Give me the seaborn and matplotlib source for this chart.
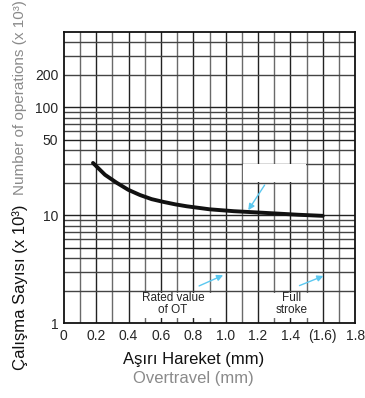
import numpy as np
import pandas as pd
import seaborn as sns
import matplotlib.pyplot as plt
from matplotlib.patches import Rectangle

# Curve (overtravel mm vs operations x10^3)
overtravel = [0.18, 0.254, 0.326, 0.398, 0.47, 0.542, 0.614, 0.69, 0.76, 0.9, 1.05, 1.2, 1.3, 1.45, 1.6]
operations = [30.5, 23.7, 20.0, 17.2, 15.4, 14.1, 13.3, 12.6, 12.1, 11.35, 10.9, 10.6, 10.4, 10.1, 9.87]

x_ticks = [0, 0.2, 0.4, 0.6, 0.8, 1.0, 1.2, 1.4, 1.6, 1.8]
x_tick_labels = ['0', '0.2', '0.4', '0.6', '0.8', '1.0', '1.2', '1.4', '(1.6)', '1.8']
y_ticks = [1, 10, 50, 100, 200]
y_tick_labels = ['1', '10', '50', '100', '200']

sns.set_style('white')
plt.rcParams['font.family'] = ['Liberation Sans', 'DejaVu Sans']

df = pd.DataFrame({'overtravel': overtravel, 'operations': operations})

fig = plt.figure(figsize=(3.65, 3.98), dpi=100)
ax = fig.add_axes([0.175, 0.188, 0.798, 0.732])
ax.set_yscale('log')
ax.set_xlim(0, 1.8)
ax.set_ylim(1, 500)

# grid: vertical every 0.1, horizontal at each log step
for i, xv in enumerate(np.arange(0.1, 1.8, 0.1)):
    ax.axvline(xv, color='#222222' if i % 2 else '#6a6a6a', lw=1.0, zorder=1)
for dec in [1, 10, 100]:
    for m in range(1, 10):
        v = dec * m
        if 1 < v < 500:
            ax.axhline(v, color='#222222' if m in (1, 5) else '#444444', lw=1.0, zorder=1)

# white label boxes over the grid
ax.add_patch(Rectangle((1.107, 20.5), 0.39, 9.3, facecolor='white', edgecolor='none', zorder=2))
ax.add_patch(Rectangle((0.45, 1.12), 0.496, 0.8, facecolor='white', edgecolor='none', zorder=2))
ax.add_patch(Rectangle((1.274, 1.12), 0.297, 0.8, facecolor='white', edgecolor='none', zorder=2))

sns.lineplot(data=df, x='overtravel', y='operations', color='#111111', lw=2.8, ax=ax, zorder=4)

ax.text(0.674, 1.5, 'Rated value\nof OT', ha='center', va='center', fontsize=8.5,
        linespacing=0.95, zorder=3)
ax.text(1.41, 1.5, 'Full\nstroke', ha='center', va='center', fontsize=8.5,
        linespacing=0.95, zorder=3)

arrow = dict(arrowstyle='-|>', color='#5bc8f0', lw=1.0, mutation_scale=9)
ax.annotate('', xy=(1.0, 2.85), xytext=(0.82, 2.16), arrowprops=arrow, zorder=5)
ax.annotate('', xy=(1.62, 2.8), xytext=(1.44, 2.18), arrowprops=arrow, zorder=5)
ax.annotate('', xy=(1.13, 10.6), xytext=(1.25, 20.0), arrowprops=arrow, zorder=5)

ax.set_xticks(x_ticks)
ax.set_xticklabels(x_tick_labels, fontsize=10)
ax.set_yticks(y_ticks)
ax.set_yticklabels(y_tick_labels, fontsize=10)
ax.yaxis.set_minor_locator(plt.NullLocator())
ax.tick_params(length=0, pad=4)
for s in ax.spines.values():
    s.set_color('#111111')
    s.set_linewidth(1.3)
    s.set_zorder(6)
ax.set_xlabel('')
ax.set_ylabel('')

fig.text(0.53, 0.097, 'Aşırı Hareket (mm)', ha='center', va='center', fontsize=12, color='#111111')
fig.text(0.53, 0.05, 'Overtravel (mm)', ha='center', va='center', fontsize=12, color='#8a8a8a')
fig.text(0.055, 0.07, 'Çalışma Sayısı (x 10³)', rotation=90, ha='center', va='bottom',
         fontsize=12, color='#111111')
fig.text(0.055, 1.0, 'Number of operations (x 10³)', rotation=90, ha='center', va='top',
         fontsize=11, color='#8a8a8a')

fig.savefig('out.png', dpi=100)
